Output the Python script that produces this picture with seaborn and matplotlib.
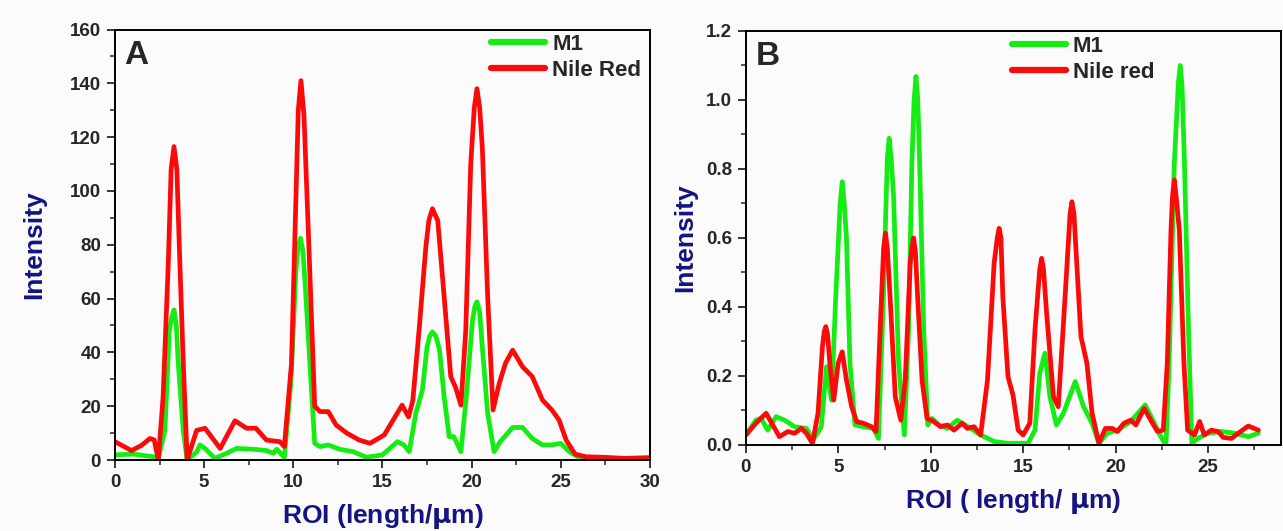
import matplotlib
matplotlib.use("Agg")
import matplotlib.pyplot as plt
from matplotlib.ticker import MultipleLocator
import seaborn as sns
import pandas as pd

# ---- Panel A: line profile intensities ----
a_m1_x = [0.0, 1.03, 2.15, 2.43, 2.8, 3.05, 3.18, 3.31, 3.44, 3.55, 3.83, 4.05, 4.58, 4.77,
          5.05, 5.6, 6.26, 6.82, 7.76, 8.5, 8.88, 9.07, 9.5, 9.87, 10.15, 10.27, 10.4,
          10.53, 10.65, 10.93, 11.2, 11.5, 11.96, 12.6, 13.36, 14.1, 15.0, 15.84, 16.2,
          16.5, 16.87, 17.24, 17.5, 17.65, 17.8, 18.0, 18.2, 18.46, 18.74, 19.0, 19.4,
          19.7, 20.05, 20.18, 20.3, 20.45, 20.6, 20.9, 21.26, 21.6, 22.3, 22.85, 23.4,
          23.97, 24.5, 25.0, 25.47, 26.0, 26.8, 28.0, 30.0]
a_m1_y = [1.9, 2.2, 1.2, 0.6, 11, 48, 53, 55.8, 50, 36, 11, 0, 3, 5.6,
          4.3, 0.6, 2.5, 4.3, 4.0, 3.5, 2.5, 4.0, 1.0, 29.7, 70.6, 79, 82.4,
          78, 67, 36, 6.2, 5.0, 5.6, 4.0, 3.1, 1.0, 1.9, 6.8, 5.6,
          3.1, 17.3, 26, 42, 46, 47.6, 46, 40.8, 23.5, 8.7, 8.7, 3.1,
          23.5, 52, 57, 58.8, 55, 42, 17.3, 3.1, 6.8, 12.1, 12.1, 8.0,
          5.6, 5.6, 6.2, 3.1, 1.0, 0.6, 0.5, 0.6]

a_nr_x = [0.0, 0.93, 1.5, 1.96, 2.2, 2.43, 2.7, 2.99, 3.15, 3.31, 3.47, 3.64, 3.83, 4.05,
          4.58, 5.05, 5.9, 6.73, 7.38, 7.9, 8.5, 9.25, 9.5, 9.9, 10.28, 10.43, 10.6,
          10.84, 11.2, 11.5, 11.96, 12.4, 13.0, 13.7, 14.3, 15.1, 16.1, 16.46, 16.7,
          17.05, 17.43, 17.6, 17.8, 18.1, 18.46, 18.83, 19.1, 19.4, 19.67, 19.95, 20.15,
          20.3, 20.45, 20.6, 20.9, 21.2, 21.55, 21.9, 22.3, 22.85, 23.4, 23.97, 24.5,
          24.9, 25.3, 25.8, 26.4, 27.5, 28.6, 30.0]
a_nr_y = [6.8, 3.5, 5.5, 8.0, 7.5, 0.0, 23.5, 73, 108, 116.5, 108, 73, 36, 0.0,
          11, 11.8, 4.3, 14.6, 11.8, 11.8, 7.4, 6.8, 5.0, 36, 130, 141, 128,
          85.5, 20, 18, 18, 13, 10, 7.4, 6.2, 9.3, 20.4, 16, 22,
          48, 79, 89, 93.4, 89, 60.6, 31, 27, 20.4, 48, 110, 131,
          138, 131, 116, 60.6, 18.6, 28.5, 36, 40.8, 34.7, 31, 22.3, 18.6,
          14.9, 7.4, 2.2, 1.2, 1.0, 0.6, 0.9]

# ---- Panel B: line profile intensities ----
b_m1_x = [0.0, 0.54, 0.82, 1.18, 1.63, 2.09, 2.63, 3.27, 3.63, 4.08, 4.36, 4.63, 4.86,
          5.1, 5.21, 5.32, 5.44, 5.63, 5.9, 6.35, 6.9, 7.17, 7.44, 7.65, 7.75, 7.86,
          7.99, 8.26, 8.57, 8.8, 8.98, 9.1, 9.2, 9.3, 9.4, 9.62, 9.84, 10.07, 10.44,
          10.9, 11.43, 12.16, 12.7, 13.43, 14.15, 15.27, 15.64, 15.9, 16.18, 16.45,
          16.8, 17.18, 17.82, 18.27, 18.73, 19.1, 19.55, 20.1, 20.82, 21.6, 22.1,
          22.45, 22.73, 22.9, 23.18, 23.4, 23.5, 23.6, 23.73, 23.95, 24.13, 24.45,
          25.0, 25.73, 26.45, 27.18, 27.73]
b_m1_y = [0.029, 0.072, 0.077, 0.043, 0.082, 0.072, 0.053, 0.048, 0.014, 0.053, 0.227,
          0.13, 0.43, 0.70, 0.763, 0.70, 0.60, 0.237, 0.058, 0.053, 0.048, 0.019, 0.43,
          0.83, 0.889, 0.83, 0.72, 0.237, 0.029, 0.333, 0.816, 1.0, 1.068, 1.0, 0.816,
          0.333, 0.058, 0.077, 0.058, 0.048, 0.072, 0.048, 0.029, 0.01, 0.005, 0.005,
          0.043, 0.208, 0.266, 0.14, 0.058, 0.092, 0.184, 0.111, 0.063, 0.005, 0.034,
          0.043, 0.068, 0.116, 0.063, 0.024, 0.0, 0.237, 0.816, 1.05, 1.10, 1.04,
          0.816, 0.333, 0.005, 0.019, 0.034, 0.039, 0.034, 0.024, 0.034]

b_nr_x = [0.0, 0.54, 1.09, 1.45, 1.81, 2.27, 2.63, 3.0, 3.27, 3.6, 3.9, 4.14, 4.24, 4.32,
          4.42, 4.54, 4.75, 4.99, 5.21, 5.44, 5.72, 5.99, 6.35, 6.8, 7.04, 7.26, 7.45,
          7.55, 7.65, 7.8, 8.08, 8.38, 8.62, 8.89, 8.98, 9.07, 9.17, 9.29, 9.53, 9.8,
          10.16, 10.53, 10.9, 11.25, 11.7, 11.98, 12.34, 12.7, 13.07, 13.43, 13.6,
          13.7, 13.8, 13.9, 14.18, 14.45, 14.73, 15.0, 15.36, 15.64, 15.9, 16.0, 16.1,
          16.27, 16.64, 16.9, 17.27, 17.54, 17.64, 17.75, 17.9, 18.13, 18.45, 18.73,
          19.1, 19.45, 19.82, 20.1, 20.45, 20.82, 21.1, 21.55, 22.0, 22.27, 22.58,
          22.8, 23.0, 23.08, 23.18, 23.28, 23.45, 23.7, 23.9, 24.27, 24.55, 24.8,
          25.18, 25.55, 25.82, 26.27, 26.64, 27.18, 27.73]
b_nr_y = [0.029, 0.063, 0.092, 0.058, 0.024, 0.039, 0.034, 0.048, 0.034, 0.005, 0.092,
          0.285, 0.33, 0.343, 0.32, 0.237, 0.13, 0.237, 0.27, 0.188, 0.111, 0.068,
          0.063, 0.053, 0.039, 0.333, 0.57, 0.614, 0.57, 0.43, 0.14, 0.072, 0.188,
          0.527, 0.57, 0.60, 0.56, 0.43, 0.188, 0.077, 0.068, 0.053, 0.058, 0.043,
          0.063, 0.048, 0.053, 0.029, 0.188, 0.527, 0.60, 0.628, 0.60, 0.43, 0.198,
          0.145, 0.043, 0.029, 0.063, 0.333, 0.51, 0.541, 0.51, 0.382, 0.14, 0.111,
          0.43, 0.67, 0.705, 0.67, 0.527, 0.314, 0.237, 0.092, 0.005, 0.048, 0.048,
          0.039, 0.063, 0.072, 0.058, 0.106, 0.063, 0.039, 0.043, 0.237, 0.623, 0.72,
          0.768, 0.72, 0.623, 0.237, 0.043, 0.029, 0.068, 0.029, 0.043, 0.039, 0.022,
          0.019, 0.034, 0.055, 0.043]

GREEN = "#14ec14"
RED = "#fb0a0a"
NAVY = "#141482"
BG = "#fbfbfb"

sns.set_theme(style="ticks")
plt.rcParams["font.family"] = ["Liberation Sans", "DejaVu Sans"]
plt.rcParams["font.weight"] = "bold"
plt.rcParams["mathtext.default"] = "regular"

fig = plt.figure(figsize=(12.83, 5.31), dpi=100)
fig.patch.set_facecolor(BG)
ax_a = fig.add_axes([0.0896, 0.1337, 0.417, 0.8107])
ax_b = fig.add_axes([0.5814, 0.162, 0.417, 0.7797])


def profile_frame(m1_x, m1_y, nr_x, nr_y, nr_name):
    return pd.concat([
        pd.DataFrame({"x": m1_x, "y": m1_y, "dye": "M1"}),
        pd.DataFrame({"x": nr_x, "y": nr_y, "dye": nr_name}),
    ], ignore_index=True)


def draw(ax, df, nr_name, letter, xlabel, xlim, ylim, xmaj, ymaj, yfmt,
         legend_anchor, xpad, ypad):
    sns.lineplot(data=df, x="x", y="y", hue="dye", palette={"M1": GREEN, nr_name: RED},
                 hue_order=["M1", nr_name], estimator=None, sort=False, linewidth=3.4,
                 solid_joinstyle="round", solid_capstyle="round", ax=ax)
    ax.set_facecolor(BG)
    ax.set_xlim(*xlim)
    ax.set_ylim(*ylim)
    ax.xaxis.set_major_locator(MultipleLocator(xmaj))
    ax.xaxis.set_minor_locator(MultipleLocator(xmaj / 2))
    ax.yaxis.set_major_locator(MultipleLocator(ymaj))
    ax.yaxis.set_minor_locator(MultipleLocator(ymaj / 2))
    ax.yaxis.set_major_formatter(yfmt)
    ax.tick_params(which="major", direction="out", length=6, width=1.3,
                   labelsize=13.5, pad=4)
    ax.tick_params(which="minor", direction="out", length=3.5, width=1.1)
    for lab in ax.get_xticklabels() + ax.get_yticklabels():
        lab.set_fontweight("bold")
    for s in ax.spines.values():
        s.set_linewidth(1.4)
        s.set_color("black")
    ax.set_xlabel(xlabel, fontsize=19, fontweight="bold", color=NAVY, labelpad=xpad)
    ax.set_ylabel("Intensity", fontsize=19, fontweight="bold", color=NAVY, labelpad=ypad)
    ax.text(0.018, 0.975, letter, transform=ax.transAxes, fontsize=24,
            fontweight="bold", va="top", ha="left")
    leg = ax.legend(loc="upper right", bbox_to_anchor=legend_anchor, frameon=False,
                    fontsize=16, handlelength=2.45, handletextpad=0.3,
                    labelspacing=0.22, borderaxespad=0.0)
    for t in leg.get_texts():
        t.set_fontweight("bold")
    for ln in leg.get_lines():
        ln.set_linewidth(4.5)


df_a = profile_frame(a_m1_x, a_m1_y, a_nr_x, a_nr_y, "Nile Red")
draw(ax_a, df_a, "Nile Red", "A", "ROI (length/$\\mathbf{\\mu}$m)", (0, 30), (0, 160), 5, 20,
     "{x:.0f}", (1.0, 1.01), 8, 17)

df_b = profile_frame(b_m1_x, b_m1_y, b_nr_x, b_nr_y, "Nile red")
draw(ax_b, df_b, "Nile red", "B", "ROI ( length/ $\\mathbf{\\mu}$m)", (0, 28.95), (0, 1.2), 5,
     0.2, "{x:.1f}", (0.78, 1.01), 8, 6)

fig.savefig("out.png", dpi=100, facecolor=fig.get_facecolor())
